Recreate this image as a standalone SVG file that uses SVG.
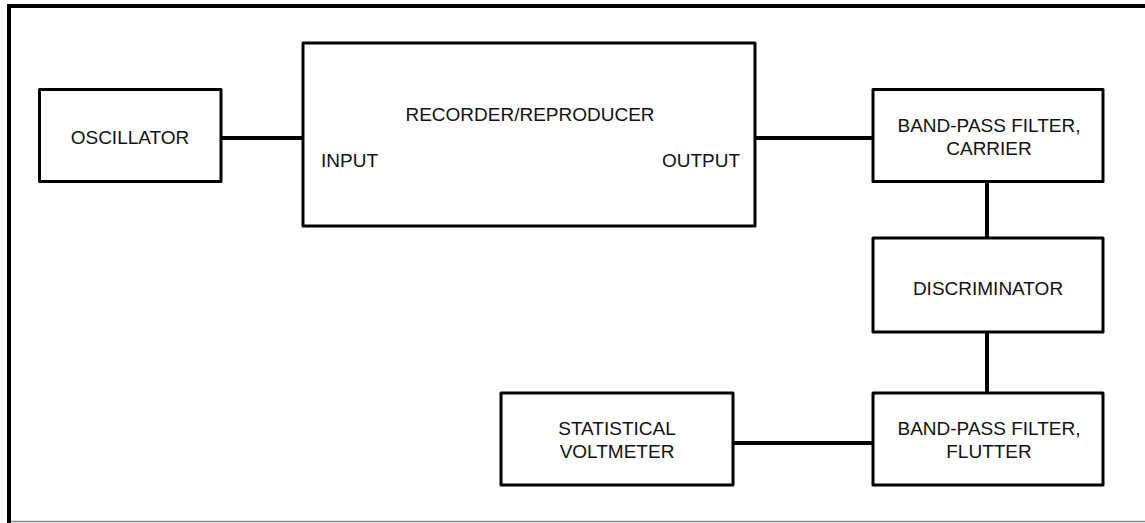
<svg xmlns="http://www.w3.org/2000/svg" width="1145" height="523" viewBox="0 0 1145 523">
<style>
.box{fill:#fff;stroke:#000;stroke-width:3;stroke-linejoin:round}
.t{font-family:"Liberation Sans",Arial,sans-serif;font-size:19px;fill:#111;text-anchor:middle}
.conn line{stroke:#000;stroke-width:4}
</style>
<rect width="1145" height="523" fill="#fff"/>
<g id="frame">
<line x1="7" y1="6" x2="1145" y2="6" stroke="#000" stroke-width="4"/>
<line x1="9" y1="4" x2="9" y2="523" stroke="#000" stroke-width="4"/>
<line x1="11" y1="521.5" x2="1145" y2="521.5" stroke="#8a8a8a" stroke-width="1.5"/>
</g>
<g class="conn" id="connectors">
<line x1="221" y1="138" x2="303" y2="138"/>
<line x1="755" y1="138" x2="873" y2="138"/>
<line x1="987" y1="182" x2="987" y2="238"/>
<line x1="987" y1="332" x2="987" y2="393"/>
<line x1="733" y1="443" x2="873" y2="443"/>
</g>
<g id="oscillator">
<rect class="box" x="39.5" y="89.5" width="181.5" height="92"/>
<text class="t" x="130" y="144">OSCILLATOR</text>
</g>
<g id="recorder">
<rect class="box" x="303" y="43" width="452" height="183"/>
<text class="t" x="530" y="121">RECORDER/REPRODUCER</text>
<text class="t" x="321" y="167" style="text-anchor:start">INPUT</text>
<text class="t" x="740" y="167" style="text-anchor:end">OUTPUT</text>
</g>
<g id="bpf-carrier">
<rect class="box" x="873" y="89.5" width="230" height="92"/>
<text class="t" x="989" y="132">BAND-PASS FILTER,</text>
<text class="t" x="989" y="155">CARRIER</text>
</g>
<g id="discriminator">
<rect class="box" x="873" y="238" width="230" height="94"/>
<text class="t" x="988" y="295">DISCRIMINATOR</text>
</g>
<g id="bpf-flutter">
<rect class="box" x="873" y="393" width="230" height="92"/>
<text class="t" x="989" y="435">BAND-PASS FILTER,</text>
<text class="t" x="989" y="458">FLUTTER</text>
</g>
<g id="voltmeter">
<rect class="box" x="501" y="393" width="232" height="92"/>
<text class="t" x="617" y="435">STATISTICAL</text>
<text class="t" x="617" y="458">VOLTMETER</text>
</g>
</svg>
